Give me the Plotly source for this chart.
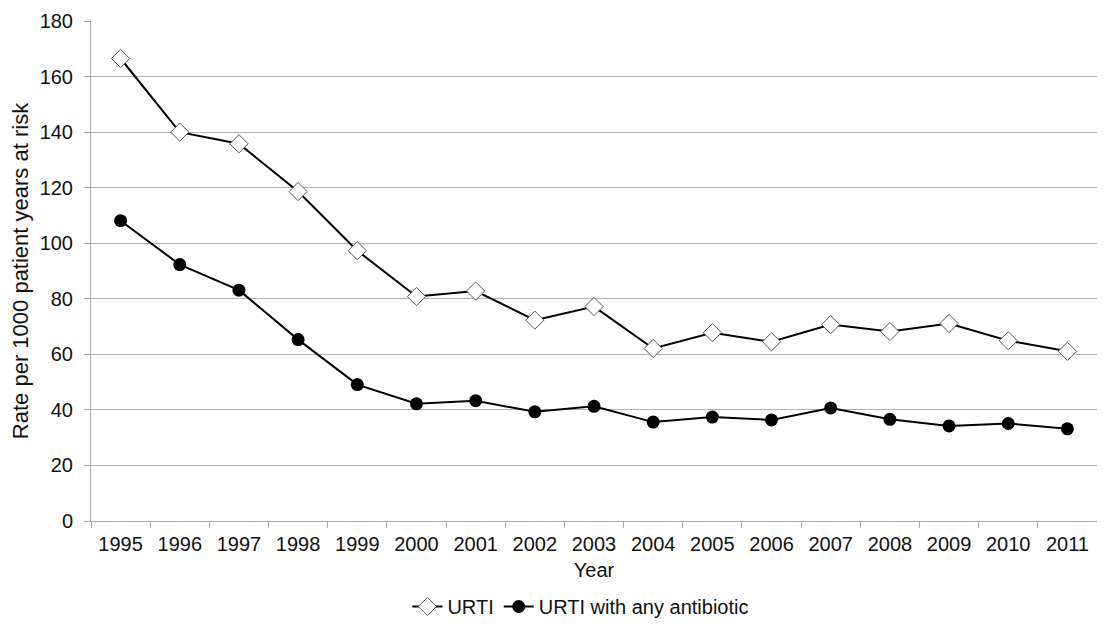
import plotly.graph_objects as go

years = [str(y) for y in range(1995, 2012)]
urti = [166.5, 140.0, 135.8, 118.6, 97.3, 80.8, 82.8, 72.3, 77.2, 62.1, 67.8, 64.5, 70.7, 68.2, 71.1, 64.9, 61.1]
urti_abx = [108.1, 92.3, 83.1, 65.3, 49.1, 42.2, 43.3, 39.3, 41.3, 35.6, 37.4, 36.4, 40.7, 36.6, 34.2, 35.1, 33.2]

font_family = "Liberation Sans, Arial, sans-serif"

fig = go.Figure()
fig.add_trace(go.Scatter(
    x=years, y=urti, name="URTI", mode="lines+markers",
    line=dict(color="black", width=2),
    marker=dict(symbol="diamond", size=14, color="white", line=dict(color="#555555", width=1)),
))
fig.add_trace(go.Scatter(
    x=years, y=urti_abx, name="URTI with any antibiotic", mode="lines+markers",
    line=dict(color="black", width=2),
    marker=dict(symbol="circle", size=13, color="black", line=dict(color="black", width=0)),
))

fig.update_layout(
    width=1089, height=618,
    margin=dict(l=83, r=0, t=13, b=96),
    paper_bgcolor="white", plot_bgcolor="white",
    font=dict(family=font_family, size=20, color="#111111"),
    legend=dict(orientation="h", x=0.487, xanchor="center", y=-0.172, yanchor="middle",
                font=dict(size=20), itemwidth=30, tracegroupgap=0),
    showlegend=True,
)
fig.update_xaxes(
    type="category", range=[-0.5, 16.5], tickson="boundaries", ticks="outside", ticklen=6,
    tickcolor="#aaaaaa", automargin=False, ticklabelstandoff=5,
    showline=True, linecolor="#aaaaaa", linewidth=1, showgrid=False,
    title=dict(text="Year", font=dict(size=20), standoff=8),
    tickfont=dict(size=20),
)
fig.update_yaxes(
    range=[0, 180], dtick=20, ticks="outside", ticklen=6, tickcolor="#aaaaaa", automargin=False,
    ticklabelstandoff=7, ticklabeloverflow="allow",
    showline=True, linecolor="#aaaaaa", linewidth=1,
    showgrid=True, gridcolor="#b5b5b5", gridwidth=1, zeroline=False,
    title=dict(text="Rate per 1000 patient years at risk", font=dict(size=22), standoff=8),
    tickfont=dict(size=20),
)

fig.write_html("out.html")
